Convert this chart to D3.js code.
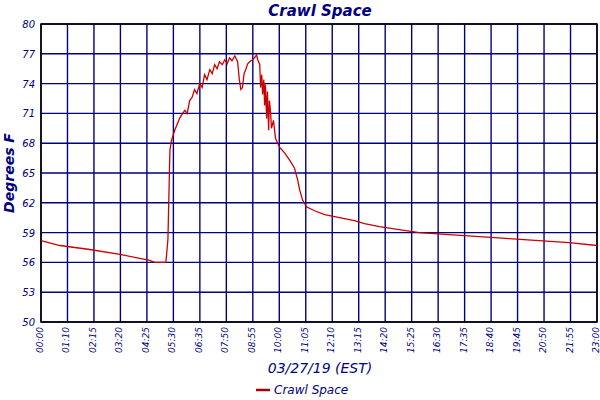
<!DOCTYPE html>
<html><head><meta charset="utf-8">
<script src="https://cdn.jsdelivr.net/npm/d3@7"></script>
<style>body{margin:0;background:#fff}text{font-family:"DejaVu Sans",sans-serif;font-style:italic;fill:#000080}</style>
</head><body><svg id="c" width="600" height="400"></svg>
<script>
const xTickLabels=["00:00","01:10","02:15","03:20","04:25","05:30","06:35","07:50","08:55","10:00","11:05","12:10","13:15","14:20","15:25","16:30","17:35","18:40","19:45","20:50","21:55","23:00"];
const yTicks=[50,53,56,59,62,65,68,71,74,77,80];
const minutes=[0,47,121,196,270,282,310,315,320,324,332,338,344,350,357,363,369,375,381,387,394,400,406,412,419,425,431,437,443,450,456,462,468,474,481,488,492,496,500,504,508,513,518,525,530,535,538,543,545,548,550,553,555,557,560,562,565,567,570,572,577,582,592,605,617,629,637,642,649,659,679,704,741,778,803,840,889,939,1013,1088,1162,1236,1311,1380];
const temps=[58.2,57.7,57.3,56.8,56.2,56.0,56.0,58.3,67.3,68.3,69.3,69.9,70.5,70.9,71.3,71.0,72.3,72.6,73.4,73.0,74.0,73.6,74.9,74.4,75.4,75.0,75.9,75.5,76.2,75.9,76.4,76.0,76.6,76.3,76.8,76.2,74.5,73.4,73.6,75.0,75.4,76.0,76.2,76.4,76.6,76.9,76.4,75.9,73.6,74.9,72.9,74.4,71.8,73.9,70.5,73.2,69.3,72.3,71.0,69.5,70.3,68.5,67.6,67.0,66.3,65.5,64.3,63.3,62.3,61.6,61.2,60.8,60.5,60.2,59.9,59.6,59.3,59.0,58.8,58.6,58.4,58.2,58.0,57.7];

const svg=d3.select("#c");
const L=41,R=597,T=24,B=322;
const x=d3.scaleLinear().domain([0,1380]).range([L,R]);
const y=d3.scaleLinear().domain([50,80]).range([B,T]);
const tickPos=xTickLabels.map((d,i)=>i*1380/(xTickLabels.length-1));

const g=svg.append("g");
g.selectAll(".vg").data(tickPos).join("line").attr("x1",d=>x(d)).attr("x2",d=>x(d)).attr("y1",T).attr("y2",B).attr("stroke","#000080").attr("stroke-width",1.4);
g.selectAll(".hg").data(yTicks).join("line").attr("x1",L).attr("x2",R).attr("y1",d=>y(d)).attr("y2",d=>y(d)).attr("stroke","#000080").attr("stroke-width",1.4);
svg.append("rect").attr("x",L).attr("y",T).attr("width",R-L).attr("height",B-T).attr("fill","none").attr("stroke","#000").attr("stroke-width",1.5);

svg.append("path").datum(minutes.map((m,i)=>[m,temps[i]])).attr("d",d3.line().x(d=>x(d[0])).y(d=>y(d[1])))
 .attr("fill","none").attr("stroke","#cc0000").attr("stroke-width",1.3);

svg.selectAll(".yl").data(yTicks).join("text").attr("x",L-6).attr("y",d=>y(d)+4).attr("text-anchor","end").attr("font-size",10).text(d=>d);
svg.selectAll(".xl").data(xTickLabels).join("text").attr("font-size",9).attr("text-anchor","end")
 .attr("transform",(d,i)=>`translate(${x(tickPos[i])+2},${B+5}) rotate(-90)`).text(d=>d);

svg.append("text").attr("x",320).attr("y",16).attr("text-anchor","middle").attr("font-size",15).attr("font-weight","bold").text("Crawl Space");
svg.append("text").attr("transform",`translate(14,${(T+B)/2}) rotate(-90)`).attr("text-anchor","middle").attr("font-size",14).attr("font-weight","bold").text("Degrees F");
svg.append("text").attr("x",320).attr("y",373).attr("text-anchor","middle").attr("font-size",14).text("03/27/19 (EST)");
svg.append("line").attr("x1",256).attr("x2",270).attr("y1",390).attr("y2",390).attr("stroke","#aa0000").attr("stroke-width",2.5);
svg.append("text").attr("x",274).attr("y",394).attr("font-size",12).text("Crawl Space");
</script></body></html>
